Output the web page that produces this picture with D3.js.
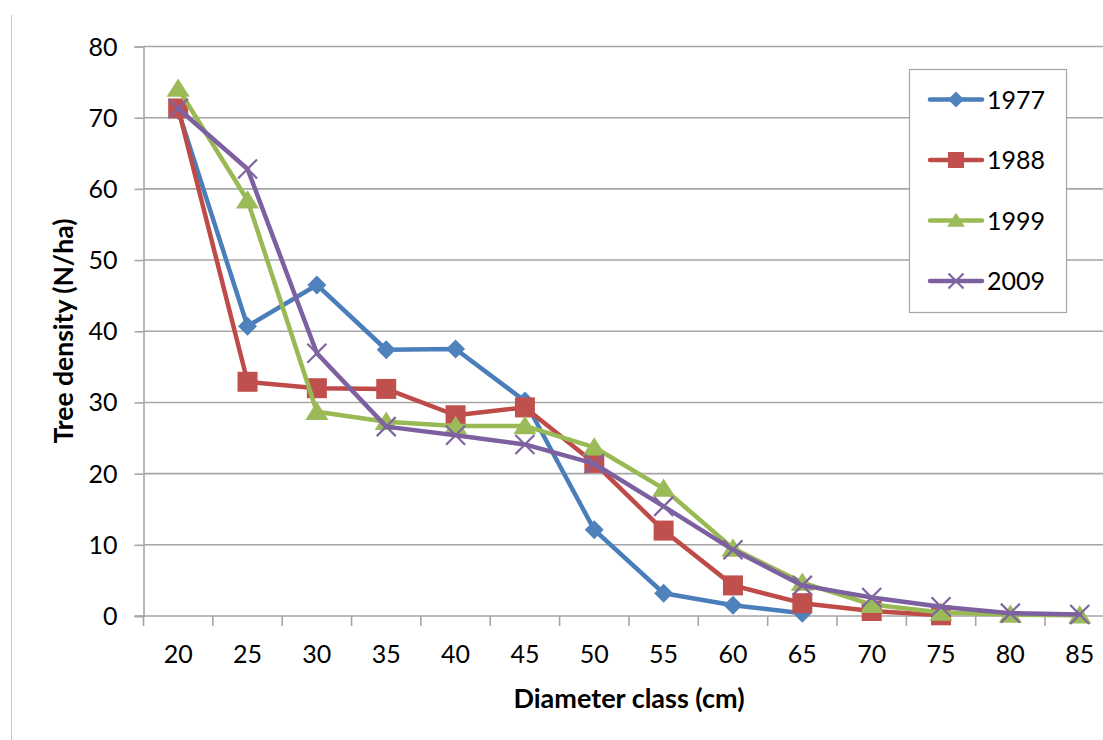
<!DOCTYPE html>
<html>
<head>
<meta charset="utf-8">
<script src="https://cdn.jsdelivr.net/npm/d3@7"></script>
<style>
  html, body { margin: 0; padding: 0; background: #fff; overflow: hidden; }
  svg { display: block; }
  text { font-family: Lato, "Open Sans", sans-serif; fill: #000; }
</style>
</head>
<body>
<svg id="chart" width="1103" height="740"></svg>
<script>
// Diameter classes (cm)
const categories = ["20","25","30","35","40","45","50","55","60","65","70","75","80","85"];

// Tree density (N/ha) per inventory year; null = no trees in that class
const years = ["1977", "1988", "1999", "2009"];
const values1977 = [71.0, 40.7, 46.5, 37.4, 37.5, 30.2, 12.1, 3.2, 1.5, 0.4, null, null, null, null];
const values1988 = [71.3, 32.9, 32.0, 31.9, 28.2, 29.3, 21.5, 12.0, 4.3, 1.8, 0.7, 0.1, null, null];
const values1999 = [74.1, 58.4, 28.7, 27.3, 26.7, 26.7, 23.7, 17.9, 9.5, 4.7, 1.6, 0.5, 0.2, 0.1];
const values2009 = [71.3, 62.8, 36.9, 26.6, 25.4, 24.1, 21.4, 15.4, 9.3, 4.3, 2.6, 1.3, 0.4, 0.2];

const yTicks = [0, 10, 20, 30, 40, 50, 60, 70, 80];

const lineColors = ["#4A7EBB", "#BE4B48", "#98B954", "#7D60A0"];
const markerColors = ["#4F81BD", "#C0504D", "#9BBB59", "#8064A2"];
const markerKinds = ["diamond", "square", "triangle", "cross"];

const seriesValues = [values1977, values1988, values1999, values2009];
const series = years.map((y, i) => ({
  name: y,
  values: seriesValues[i],
  line: lineColors[i],
  marker: markerColors[i],
  kind: markerKinds[i]
}));

const svg = d3.select("#chart");

const plot = { left: 143.5, top: 46.5, bottom: 616, bandW: 69.35 };
const x = d3.scaleBand()
  .domain(categories)
  .range([plot.left, plot.left + plot.bandW * categories.length])
  .padding(0);
const y = d3.scaleLinear().domain([0, 80]).range([plot.bottom, plot.top]);
const cx = c => x(c) + x.bandwidth() / 2;

// outer frame edge on the left
svg.append("line")
  .attr("x1", 11.5).attr("x2", 11.5).attr("y1", 15).attr("y2", 740)
  .attr("stroke", "#c8c8c8").attr("stroke-width", 1);

// horizontal gridlines
svg.append("g")
  .selectAll("line")
  .data(yTicks.filter(t => t > 0))
  .join("line")
  .attr("x1", plot.left).attr("x2", x.range()[1])
  .attr("y1", d => y(d)).attr("y2", d => y(d))
  .attr("stroke", "#a6a6a6").attr("stroke-width", 1.6);

// y axis
const yAxis = svg.append("g")
  .attr("transform", `translate(${plot.left},0)`)
  .call(d3.axisLeft(y).tickValues(yTicks).tickSize(9).tickPadding(17).tickFormat(d3.format("d")));
yAxis.select(".domain").attr("stroke", "#a6a6a6").attr("stroke-width", 1.6);
yAxis.selectAll(".tick line").attr("stroke", "#a6a6a6").attr("stroke-width", 1.6);
yAxis.selectAll(".tick text").attr("font-size", 25).attr("font-family", "Lato, sans-serif").attr("fill", "#000").attr("dy", "0.34em");

// x axis: ticks between categories
const xAxisG = svg.append("g").attr("transform", `translate(0,${plot.bottom})`);
xAxisG.append("line")
  .attr("x1", plot.left - 9).attr("x2", x.range()[1])
  .attr("y1", 0).attr("y2", 0)
  .attr("stroke", "#a6a6a6").attr("stroke-width", 1.6);
xAxisG.selectAll("line.tk")
  .data(categories)
  .join("line")
  .attr("class", "tk")
  .attr("x1", d => x(d)).attr("x2", d => x(d))
  .attr("y1", 0).attr("y2", 10)
  .attr("stroke", "#a6a6a6").attr("stroke-width", 1.6);
xAxisG.selectAll("text.lbl")
  .data(categories)
  .join("text")
  .attr("class", "lbl")
  .attr("x", d => cx(d))
  .attr("y", 47)
  .attr("text-anchor", "middle")
  .attr("font-size", 25)
  .text(d => d);

// axis titles
svg.append("text")
  .attr("x", 629).attr("y", 708)
  .attr("text-anchor", "middle")
  .attr("font-size", 27).attr("font-weight", "bold")
  .text("Diameter class (cm)");
svg.append("text")
  .attr("transform", "translate(73,331) rotate(-90)")
  .attr("text-anchor", "middle")
  .attr("font-size", 26.5).attr("font-weight", "bold")
  .text("Tree density (N/ha)");

// marker drawing
function drawMarker(g, kind, color, s) {
  if (kind === "diamond") {
    g.append("path")
      .attr("d", `M0,${-s}L${s},0L0,${s}L${-s},0Z`)
      .attr("fill", color);
  } else if (kind === "square") {
    g.append("rect")
      .attr("x", -s).attr("y", -s).attr("width", 2 * s).attr("height", 2 * s)
      .attr("fill", color);
  } else if (kind === "triangle") {
    const h = s * 1.75;
    g.append("path")
      .attr("d", `M0,${-h * 0.55}L${s * 1.1},${h * 0.45}L${-s * 1.1},${h * 0.45}Z`)
      .attr("fill", color);
  } else {
    g.append("path")
      .attr("d", `M${-s},${-s}L${s},${s}M${-s},${s}L${s},${-s}`)
      .attr("stroke", color).attr("stroke-width", 2.2).attr("fill", "none");
  }
}
const markerSize = { diamond: 9.5, square: 10, triangle: 10.5, cross: 9.5 };

// series lines and markers
const lineGen = d3.line()
  .defined(d => d.v !== null)
  .x(d => cx(d.c))
  .y(d => y(d.v));

series.forEach(s => {
  const pts = categories.map((c, i) => ({ c, v: s.values[i] }));
  const g = svg.append("g");
  g.append("path")
    .datum(pts)
    .attr("d", lineGen)
    .attr("fill", "none")
    .attr("stroke", s.line)
    .attr("stroke-width", 4.5)
    .attr("stroke-linejoin", "round")
    .attr("stroke-linecap", "round");
  pts.filter(p => p.v !== null).forEach(p => {
    const m = g.append("g").attr("transform", `translate(${cx(p.c)},${y(p.v)})`);
    drawMarker(m, s.kind, s.marker, markerSize[s.kind]);
  });
});

// legend
const legend = svg.append("g");
legend.append("rect")
  .attr("x", 909.5).attr("y", 69.5).attr("width", 157).attr("height", 243)
  .attr("fill", "#fff").attr("stroke", "#a6a6a6").attr("stroke-width", 1.2);
const legendRowY = d3.scalePoint().domain(years).range([99.5, 281]);
series.forEach(s => {
  const ly = legendRowY(s.name);
  const row = legend.append("g");
  row.append("line")
    .attr("x1", 930).attr("x2", 982).attr("y1", ly).attr("y2", ly)
    .attr("stroke", s.line).attr("stroke-width", 4.5).attr("stroke-linecap", "round");
  const m = row.append("g").attr("transform", `translate(956,${ly})`);
  drawMarker(m, s.kind, s.marker, s.kind === "cross" ? 7.5 : 8);
  row.append("text")
    .attr("x", 987).attr("y", ly).attr("dy", "0.36em")
    .attr("font-size", 25)
    .text(s.name);
});
</script>
</body>
</html>
